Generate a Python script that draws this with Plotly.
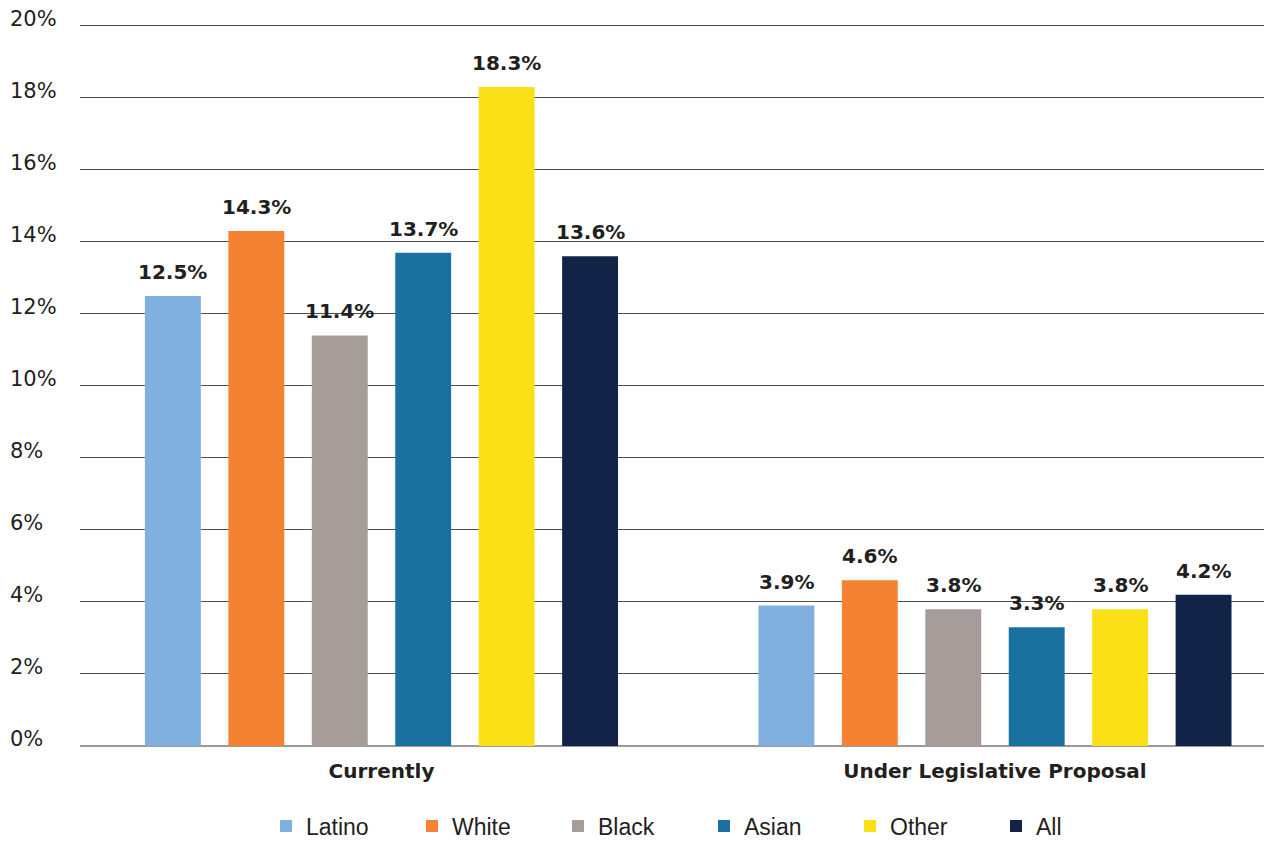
import plotly.graph_objects as go

# Scenario groups on the x axis
scenarios = ["Currently", "Under Legislative Proposal"]

# Share (%) for each group, one list per population
groups = ["Latino", "White", "Black", "Asian", "Other", "All"]
values = {
    "Latino": [12.5, 3.9],
    "White": [14.3, 4.6],
    "Black": [11.4, 3.8],
    "Asian": [13.7, 3.3],
    "Other": [18.3, 3.8],
    "All": [13.6, 4.2],
}
colors = {
    "Latino": "#80b0df",
    "White": "#f58233",
    "Black": "#a69d9a",
    "Asian": "#18719f",
    "Other": "#fbe018",
    "All": "#112447",
}

y_ticks = [0, 2, 4, 6, 8, 10, 12, 14, 16, 18, 20]

BODY = "DejaVu Sans, Verdana, sans-serif"
LEGEND_FONT = "Liberation Sans, Arial, sans-serif"
INK = "#231f20"

# Geometry of the plotting area (pixels) and the bar layout
PLOT_W = 1184
X_RANGE = [-0.4914, 1.4385]
BARGAP = 0.184
BARGROUPGAP = 0.33
PX_PER_UNIT = PLOT_W / (X_RANGE[1] - X_RANGE[0])
SLOT_PX = PX_PER_UNIT * (1 - BARGAP) / len(groups)

fig = go.Figure()
for i, g in enumerate(groups):
    fig.add_trace(go.Bar(
        name=g,
        x=scenarios,
        y=values[g],
        marker=dict(color=colors[g], line=dict(width=0)),
    ))
    # value label above each bar
    for cat, v in zip(scenarios, values[g]):
        fig.add_annotation(
            x=cat, y=v, xref="x", yref="y",
            xshift=(i - (len(groups) - 1) / 2) * SLOT_PX, yshift=24,
            text=f"{v:.1f}%", showarrow=False,
            xanchor="center", yanchor="middle",
            font=dict(family=BODY, size=20, color=INK, weight=700),
        )

# Left-aligned percentage labels for the value axis
for t in y_ticks:
    fig.add_annotation(
        xref="paper", yref="y", x=(8 - 80) / PLOT_W, y=t,
        text=f"{t}%", showarrow=False, xanchor="left", yanchor="middle",
        yshift=7, font=dict(family=BODY, size=21, color=INK),
    )

fig.update_layout(
    width=1264, height=841,
    margin=dict(l=80, r=0, t=24, b=95),
    paper_bgcolor="white", plot_bgcolor="white",
    barmode="group", bargap=BARGAP, bargroupgap=BARGROUPGAP,
    showlegend=True,
    legend=dict(
        orientation="h", xanchor="left", yanchor="middle",
        xref="container", yref="container",
        x=266 / 1264, y=(841 - 826) / 841,
        entrywidth=101, entrywidthmode="pixels",
        font=dict(family=LEGEND_FONT, size=23, color=INK),
        itemclick=False, itemdoubleclick=False,
    ),
    xaxis=dict(
        range=X_RANGE,
        showgrid=False, zeroline=False,
        showline=False, ticks="", ticklabelstandoff=11,
        tickfont=dict(family=BODY, size=20, color=INK, weight=700),
    ),
    yaxis=dict(
        range=[0, 20.05], tickvals=y_ticks, showticklabels=False,
        showgrid=True, gridcolor="#4a4f57", gridwidth=1,
        zeroline=True, zerolinecolor="#9a9a9a", zerolinewidth=2,
        showline=False, ticks="",
    ),
)

fig.write_html("out.html")
